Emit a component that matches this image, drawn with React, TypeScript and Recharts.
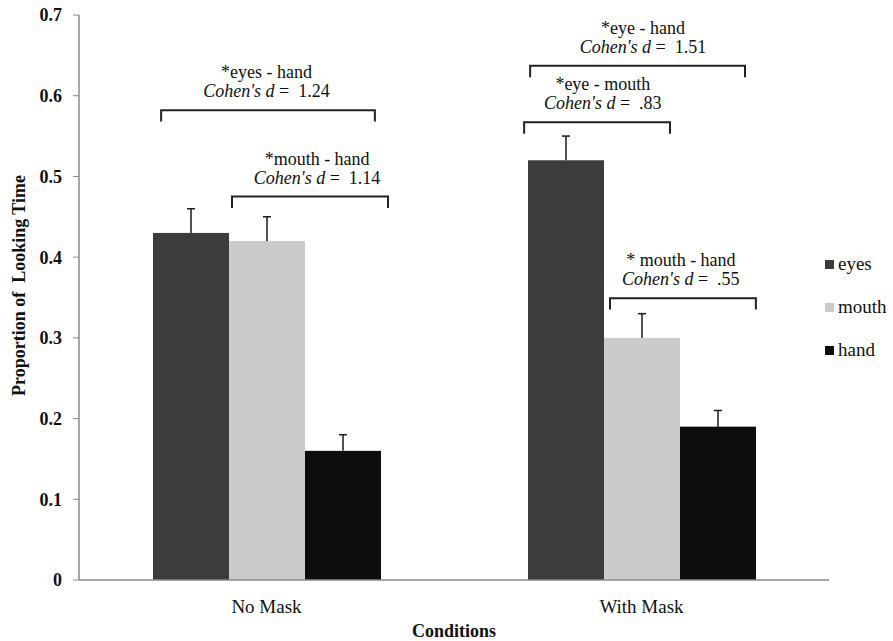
import React from 'react';
import { BarChart, Bar, XAxis, YAxis, ReferenceArea, Legend } from 'recharts';

// ---------- data ----------
const conditions = ['No Mask', 'With Mask'];
const seriesNames = ['eyes', 'mouth', 'hand'];
const eyesValues = [0.43, 0.52];
const mouthValues = [0.42, 0.3];
const handValues = [0.16, 0.19];
const eyesErrors = [0.03, 0.03];
const mouthErrors = [0.03, 0.03];
const handErrors = [0.02, 0.02];
const yTicks = [0, 0.1, 0.2, 0.3, 0.4, 0.5, 0.6, 0.7];

// significance annotations
const compCondition = ['No Mask', 'No Mask', 'With Mask', 'With Mask', 'With Mask'];
const compLabel = ['*eyes - hand', '*mouth - hand', '*eye - hand', '*eye - mouth', '* mouth - hand'];
const compD = ['1.24', '1.14', '1.51', '.83', '.55'];
const compLevel = [0.582, 0.475, 0.637, 0.567, 0.349];

// ---------- styles / layout ----------
const bracketStart = [0.219, 0.408, 0.203, 0.187, 0.416];
const bracketEnd = [0.789, 0.824, 0.776, 0.576, 0.805];
const textCenter = [0.5, 0.635, 0.504, 0.397, 0.605];
const bracketTick = 0.014;

const FONT = "'Liberation Serif', 'Times New Roman', Times, serif";
const COLORS: Record<string, string> = { eyes: '#3c3c3c', mouth: '#cbcbcb', hand: '#0d0d0d' };

const data = conditions.map((c, i) => ({
  condition: c,
  eyes: eyesValues[i],
  mouth: mouthValues[i],
  hand: handValues[i],
  eyesErr: eyesErrors[i],
  mouthErr: mouthErrors[i],
  handErr: handErrors[i],
}));

const makeBarShape = (valKey: string, errKey: string) => (props: any) => {
  const { x, y, width, height, fill, payload } = props;
  const v = payload[valKey];
  const e = payload[errKey];
  const pxPerUnit = v ? height / v : 0;
  const cx = x + width / 2;
  const top = y - e * pxPerUnit;
  return (
    <g>
      <rect x={x} y={y} width={width} height={height} fill={fill} />
      <line x1={cx} x2={cx} y1={y} y2={top} stroke="#1a1a1a" strokeWidth={1.5} />
      <line x1={cx - 4} x2={cx + 4} y1={top} y2={top} stroke="#1a1a1a" strokeWidth={1.5} />
    </g>
  );
};

const textStyle = { fontFamily: FONT, fontSize: 18, fill: '#111' };

const makeBracketShape = (i: number) => (props: any) => {
  const { x, y, width, height } = props;
  const x1 = x + bracketStart[i] * width;
  const x2 = x + bracketEnd[i] * width;
  const tx = x + textCenter[i] * width;
  return (
    <g>
      <path
        d={`M${x1},${y + height} L${x1},${y} L${x2},${y} L${x2},${y + height}`}
        fill="none"
        stroke="#222"
        strokeWidth={2}
      />
      <text x={tx} y={y - 32} textAnchor="middle" style={textStyle}>
        {compLabel[i]}
      </text>
      <text x={tx} y={y - 13} textAnchor="middle" style={textStyle}>
        <tspan style={{ fontStyle: 'italic' }}>Cohen's d</tspan>
        <tspan>{'\u00a0=\u00a0\u00a0' + compD[i]}</tspan>
      </text>
    </g>
  );
};

const renderLegend = (props: any) => {
  const payload = [...(props.payload || [])].sort(
    (a: any, b: any) => seriesNames.indexOf(a.value) - seriesNames.indexOf(b.value)
  );
  return (
    <svg width={75} height={125} style={{ display: 'block', overflow: 'visible' }}>
      {payload.map((p: any, i: number) => (
        <g key={i}>
          <rect x={5} y={10 + i * 43} width={9} height={9} fill={p.color} />
          <text x={18} y={20 + i * 43} style={{ fontFamily: FONT, fontSize: 19, fill: '#111' }}>
            {p.value}
          </text>
        </g>
      ))}
    </svg>
  );
};

const YLabel = (props: any) => {
  const vb = props.viewBox || { x: 0, y: 0, width: 0, height: 0 };
  const cx = 25;
  const cy = vb.y + vb.height / 2 - 12;
  return (
    <text
      x={cx}
      y={cy}
      transform={`rotate(-90, ${cx}, ${cy})`}
      textAnchor="middle"
      style={{ fontFamily: FONT, fontSize: 18, fontWeight: 'bold', fill: '#111' }}
    >
      Proportion of{'\u00a0\u00a0'}Looking Time
    </text>
  );
};

export default function App() {
  return (
    <div style={{ position: 'absolute', left: 0, top: 0, width: 893, height: 641, background: '#fff' }}>
      <BarChart
        width={893}
        height={641}
        data={data}
        margin={{ top: 15, right: 64, left: 0, bottom: 0 }}
        barCategoryGap={74}
        barGap={0}
      >
        <XAxis
          dataKey="condition"
          height={61}
          axisLine={{ stroke: '#8a8a8a', strokeWidth: 1.5 }}
          tickLine={false}
          tickSize={6}
          tickMargin={14}
          tick={{ style: { fontFamily: FONT, fontSize: 19, fill: '#111' } } as any}
          label={{
            value: 'Conditions',
            position: 'insideBottom',
            offset: 4,
            style: { fontFamily: FONT, fontSize: 18, fontWeight: 'bold', fill: '#111' },
          }}
        />
        <YAxis
          width={79}
          domain={[0, 0.7]}
          ticks={yTicks}
          interval={0}
          tickFormatter={(v: number) => (v === 0 ? '0' : v.toFixed(1))}
          axisLine={{ stroke: '#8a8a8a', strokeWidth: 1.5 }}
          tickLine={{ stroke: '#8a8a8a' }}
          tickSize={6}
          tickMargin={11}
          tick={{ style: { fontFamily: FONT, fontSize: 18, fontWeight: 'bold', fill: '#111' } } as any}
          label={<YLabel />}
        />
        <Legend
          layout="vertical"
          align="center"
          verticalAlign="middle"
          wrapperStyle={{ left: 820, top: 250, width: 75, height: 125 }}
          content={renderLegend}
        />
        {seriesNames.map((s) => (
          <Bar
            key={s}
            dataKey={s}
            name={s}
            fill={COLORS[s]}
            isAnimationActive={false}
            shape={makeBarShape(s, s + 'Err')}
          />
        ))}
        {compCondition.map((c, i) => (
          <ReferenceArea
            key={i}
            x1={c}
            x2={c}
            y1={compLevel[i] - bracketTick}
            y2={compLevel[i]}
            shape={makeBracketShape(i)}
          />
        ))}
      </BarChart>
    </div>
  );
}
